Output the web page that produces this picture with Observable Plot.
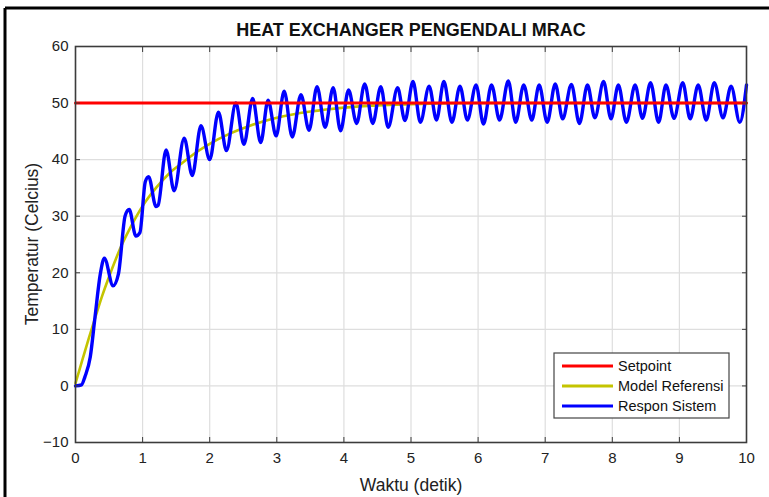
<!DOCTYPE html>
<html><head><meta charset="utf-8">
<script src="https://cdn.jsdelivr.net/npm/d3@7"></script>
<script src="https://cdn.jsdelivr.net/npm/@observablehq/plot@0.6"></script>
<style>
html,body{margin:0;padding:0;background:#fff;}
#wrap{position:relative;width:769px;height:497px;overflow:hidden;}
</style></head><body><div id="wrap"></div>
<script>
const titleText = "HEAT EXCHANGER PENGENDALI MRAC";
const xLabel = "Waktu (detik)";
const yLabel = "Temperatur (Celcius)";
const xTicks = [0,1,2,3,4,5,6,7,8,9,10];
const yTicks = [-10,0,10,20,30,40,50,60];
const seriesNames = ["Setpoint","Model Referensi","Respon Sistem"];
const seriesColors = ["#ff0000","#c4c400","#0000ff"];

const setpointT = [0, 10];
const setpointV = [50, 50];

const modelT = [0,0.1,0.2,0.3,0.4,0.5,0.6,0.7,0.8,0.9,1.0,1.2,1.4,1.6,1.8,2.0,2.3,2.6,3.0,3.5,4.0,4.5,5.0,6.0,7.0,8.0,9.0,10.0];
const modelV = [0.5,4.5,8.5,12.3,16,19.3,22.4,25.2,27.6,29.8,31.8,35,37.6,39.5,41.3,42.8,44.6,46,47.4,48.5,49.2,49.6,49.8,50,50,50,50,50];

const respT = [0,0.09,0.14,0.22,0.29,0.37,0.43,0.56,0.64,0.74,0.80,0.90,0.96,1.04,1.09,1.20,1.23,1.35,1.47,1.62,1.74,1.87,2.00,2.13,2.25,2.39,2.51,2.64,2.76,2.87,2.99,3.11,3.23,3.36,3.48,3.60,3.72,3.84,3.95,4.07,4.19,4.31,4.43,4.55,4.66,4.80,4.91,5.03,5.14,5.27,5.38,5.49,5.61,5.73,5.84,5.97,6.08,6.20,6.32,6.45,6.56,6.68,6.80,6.91,7.03,7.15,7.26,7.39,7.51,7.63,7.74,7.87,7.98,8.09,8.21,8.34,8.45,8.57,8.69,8.80,8.92,9.05,9.16,9.28,9.40,9.52,9.65,9.77,9.90,10.0];
const respV = [0,0.2,1.6,5.1,12.1,19.8,22.6,17.7,19.8,30.1,31.2,26.5,27.1,36.1,37,31.7,31.9,41.7,34.5,43.8,37.2,46,40,48.4,41.6,50,42.7,50.8,43,50.5,44.2,52.1,44,51.5,45.2,52.9,45.7,52.7,45.1,52.3,46.4,53.4,46.4,52.9,45.7,52.7,46.9,53.8,46.6,53,47,53.8,46.6,53,47,53.2,46.3,53.2,47,53.9,46.6,53.2,47,53.2,46.6,53.4,47.2,53.3,46.4,53.2,47.4,53.8,47.2,53.2,46.6,53.2,47.3,53.6,46.6,53.2,47.3,53.6,47.2,53.2,47,53.6,47.4,53,46.6,53.2];

const setpoint = setpointT.map((t,i)=>({t, v:setpointV[i]}));
const model = modelT.map((t,i)=>({t, v:modelV[i]}));
const resp = respT.map((t,i)=>({t, v:respV[i]}));

const W = 769, H = 497, mL = 75, mR = 23, mT = 46, mB = 55;
const font = "'Liberation Sans', Arial, Helvetica, sans-serif";

const chart = Plot.plot({
  width: W, height: H,
  marginLeft: mL, marginRight: mR, marginTop: mT, marginBottom: mB,
  style: {fontFamily: font, fontSize: "15px", background: "transparent", color: "#262626", overflow: "visible"},
  x: {domain: [0, 10], ticks: xTicks, label: null},
  y: {domain: [-10, 60], ticks: yTicks, label: null},
  marks: [
    Plot.gridX(xTicks, {stroke: "#dedede", strokeOpacity: 1, strokeWidth: 1.2}),
    Plot.gridY(yTicks, {stroke: "#dedede", strokeOpacity: 1, strokeWidth: 1.2}),
    Plot.line(model, {x: "t", y: "v", stroke: seriesColors[1], strokeWidth: 2.6, curve: "monotone-x"}),
    Plot.line(resp, {x: "t", y: "v", stroke: seriesColors[2], strokeWidth: 3.4, curve: "monotone-x"}),
    Plot.line(setpoint, {x: "t", y: "v", stroke: seriesColors[0], strokeWidth: 3}),
    Plot.frame({stroke: "#3c3c3c", strokeWidth: 1.6}),
    Plot.axisX(xTicks, {anchor: "bottom", tickSize: -5, tickPadding: 15, label: null, fill: "#222", stroke: "#3c3c3c"}),
    Plot.axisX(xTicks, {anchor: "top", tickSize: -5, tickFormat: () => "", label: null, stroke: "#3c3c3c"}),
    Plot.axisY(yTicks, {anchor: "left", tickSize: -5, tickPadding: 12, label: null, fill: "#222", stroke: "#3c3c3c"}),
    Plot.axisY(yTicks, {anchor: "right", tickSize: -5, tickFormat: () => "", label: null, stroke: "#3c3c3c"})
  ]
});
document.getElementById("wrap").appendChild(chart);

const svg = d3.select(chart);
// outer figure border (top and left edges)
svg.append("line").attr("x1", 5).attr("y1", 8).attr("x2", W).attr("y2", 8).attr("stroke", "#000").attr("stroke-width", 3);
svg.append("line").attr("x1", 5).attr("y1", 8).attr("x2", 5).attr("y2", H).attr("stroke", "#000").attr("stroke-width", 3);

// title
svg.append("text").attr("x", 411).attr("y", 36).attr("text-anchor", "middle")
  .attr("font-family", font).attr("font-size", 18).attr("font-weight", "bold").attr("fill", "#111").text(titleText);
// axis labels
svg.append("text").attr("x", 411).attr("y", 491).attr("text-anchor", "middle")
  .attr("font-family", font).attr("font-size", 17.5).attr("fill", "#222").text(xLabel);
svg.append("text").attr("transform", "translate(38,244) rotate(-90)").attr("text-anchor", "middle")
  .attr("font-family", font).attr("font-size", 17.5).attr("fill", "#222").text(yLabel);

// legend
const lg = svg.append("g");
lg.append("rect").attr("x", 554).attr("y", 353).attr("width", 175).attr("height", 65)
  .attr("fill", "#fff").attr("stroke", "#444").attr("stroke-width", 1.2);
seriesNames.forEach((name, i) => {
  const yy = 366 + i * 20;
  lg.append("line").attr("x1", 562).attr("x2", 613).attr("y1", yy).attr("y2", yy)
    .attr("stroke", seriesColors[i]).attr("stroke-width", 2.8);
  lg.append("text").attr("x", 618).attr("y", yy + 5).attr("text-anchor", "start")
    .attr("font-family", font).attr("font-size", 14.5)
    .attr("fill", "#111").text(name);
});
</script>
</body></html>
